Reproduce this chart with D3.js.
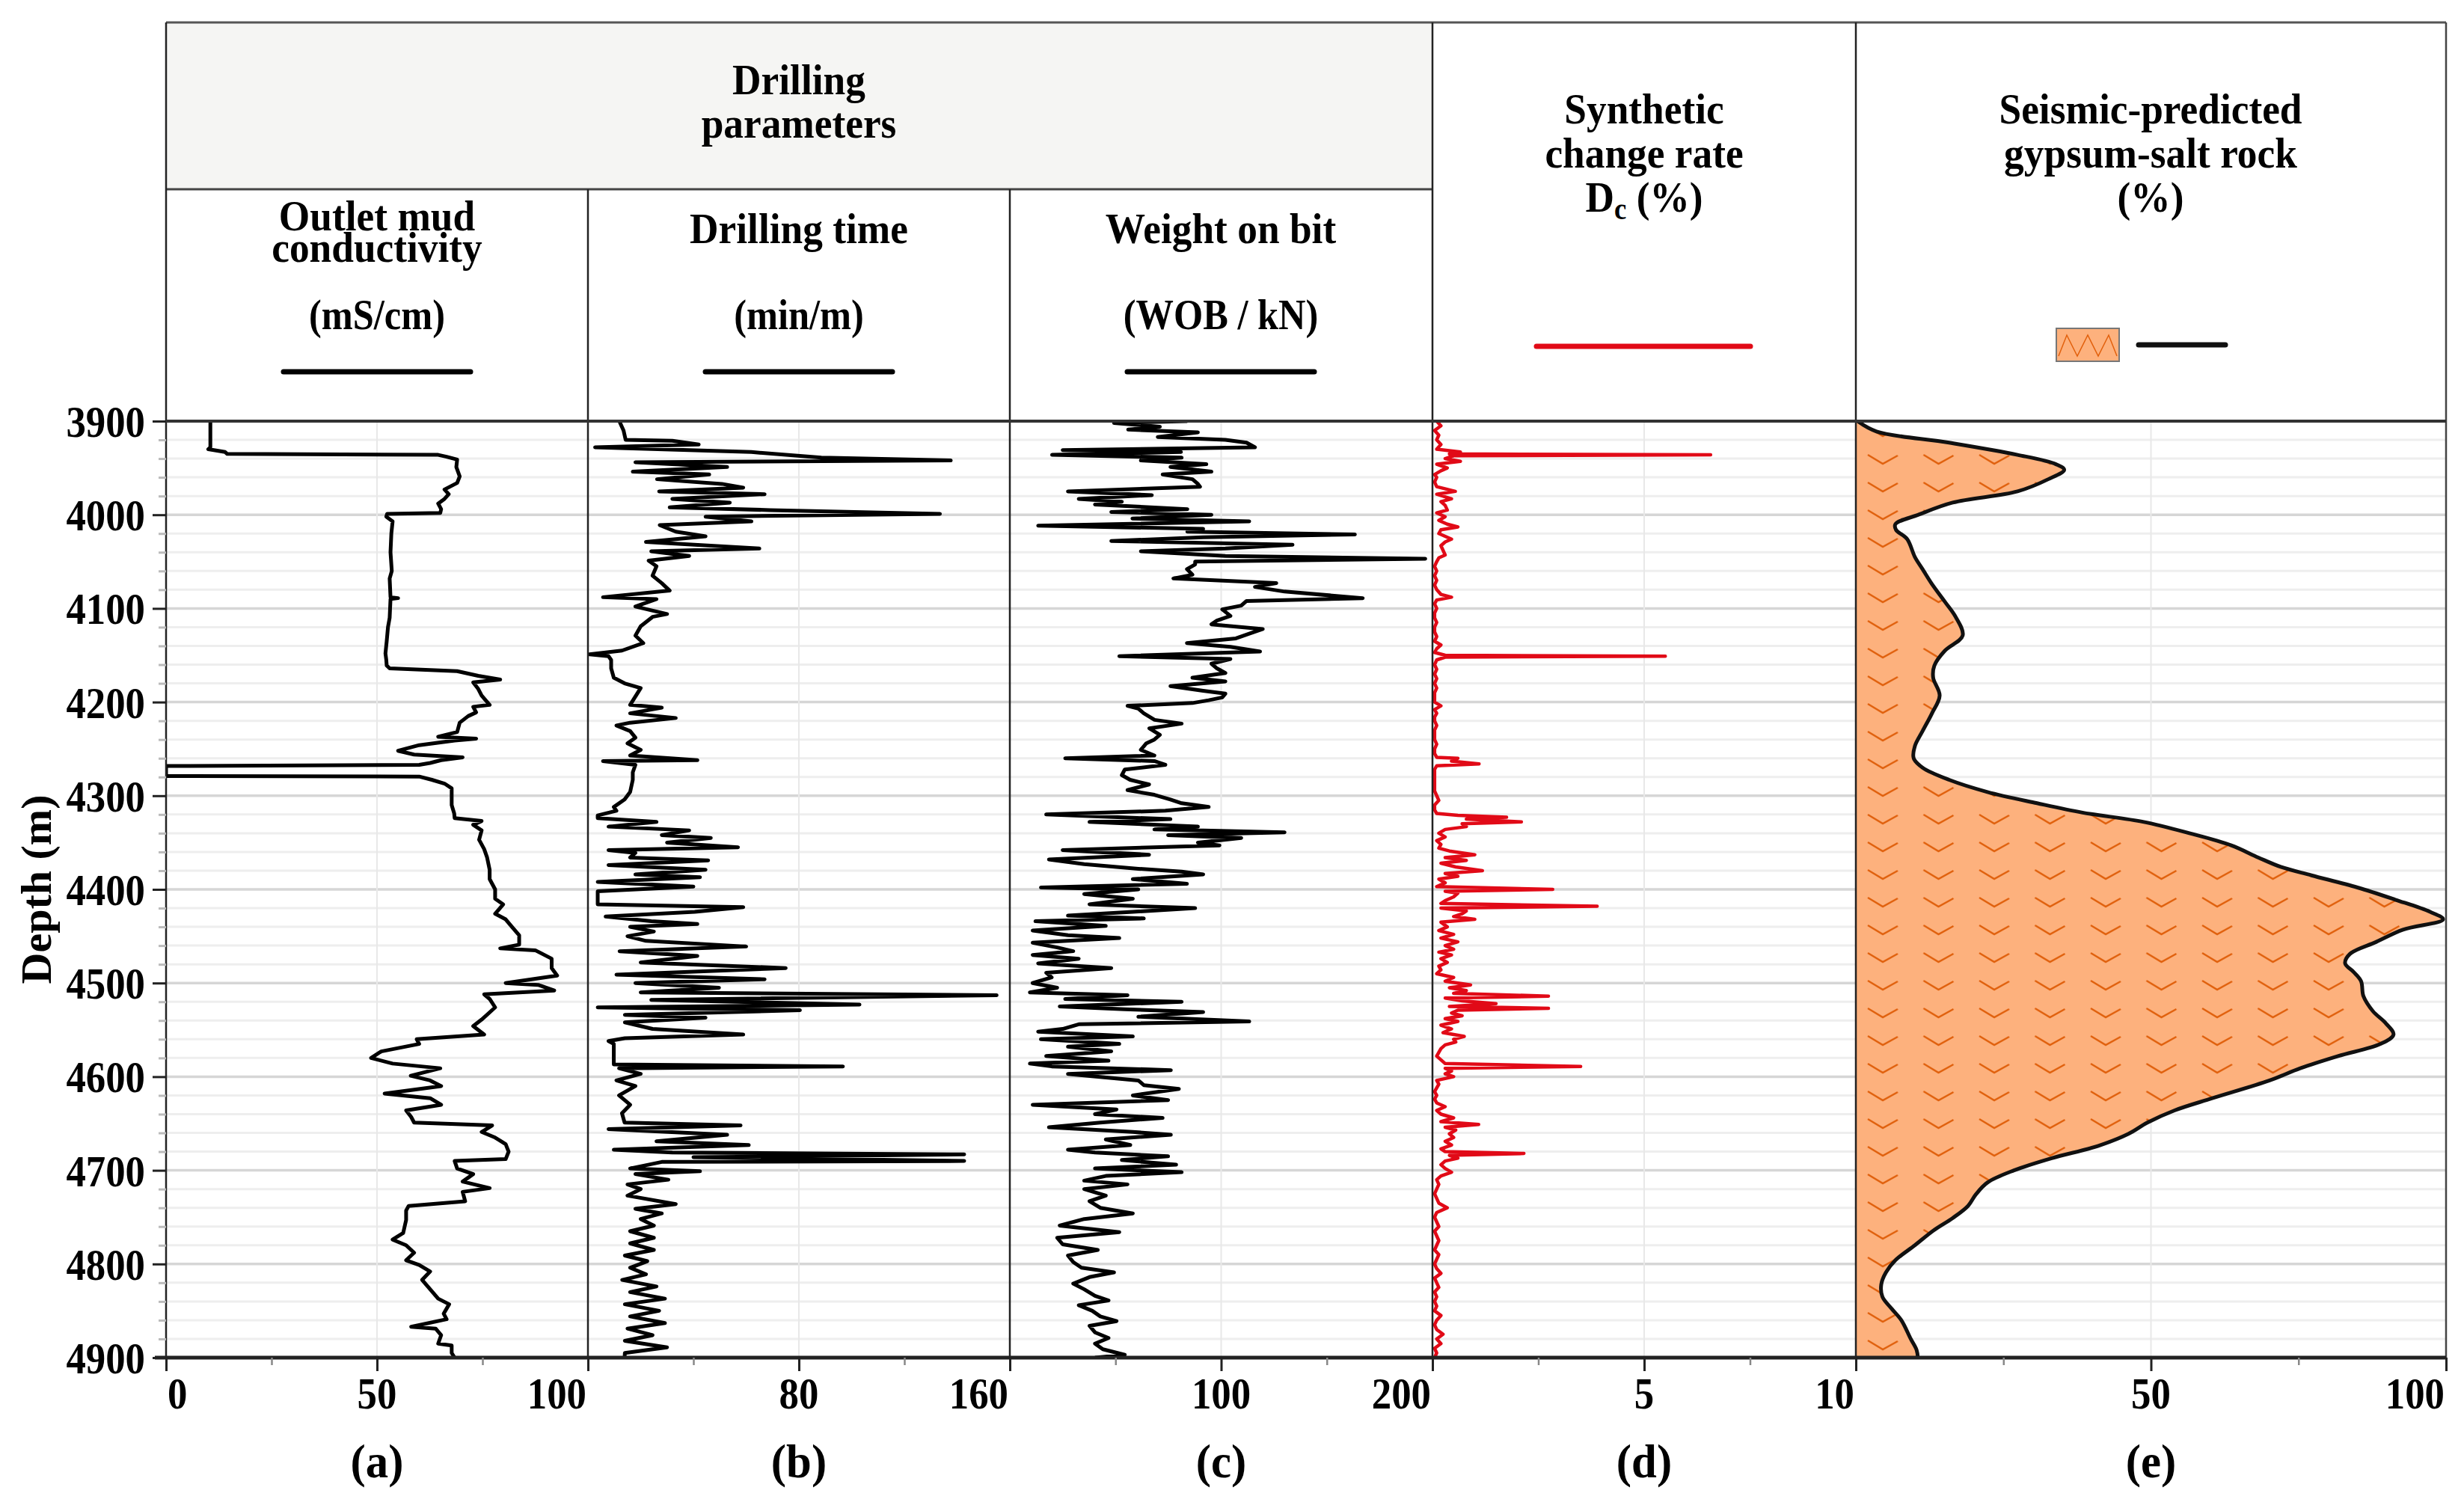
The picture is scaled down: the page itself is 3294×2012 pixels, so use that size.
<!DOCTYPE html>
<html>
<head>
<meta charset="utf-8">
<script src="https://cdn.jsdelivr.net/npm/d3@7"></script>
<style>
  body { margin: 0; background: #fff; }
  svg text { font-family: "Liberation Serif", "Times New Roman", serif; font-weight: bold; fill: #000; }
</style>
</head>
<body>
<div id="chart"></div>
<script>
// ---- data: [depth (m), value] ----
const depthTicks = [3900, 4000, 4100, 4200, 4300, 4400, 4500, 4600, 4700, 4800, 4900];

const aTicks = [0, 50, 100];
const bTicks = [80, 160];
const cTicks = [100, 200];
const dTicks = [5, 10];
const eTicks = [50, 100];

// outlet mud conductivity, mS/cm
const conductivity = [
  [3900,10.5],[3928,10.5],[3930,10],[3933,14],[3935,14.5],[3936,64.5],[3938,66.5],[3941,69],[3949,68.8],[3959,69.6],
  [3966,69],[3973,66],[3978,67],[3983,66],[3988,64.5],[3994,65.2],[3998,65],[3999,52.4],[4002,52.2],[4007,53.7],
  [4020,53.4],[4040,53.2],[4060,53.5],[4068,53],[4088,53.2],[4089,55],[4090,53.2],[4110,53],[4120,52.6],[4135,52.3],
  [4148,52],[4155,52.2],[4161,52.3],[4164,53],[4167,69],[4172,74],[4176,79.2],[4179,72.8],[4186,74],[4193,74.8],
  [4203,76.7],[4205,72.8],[4211,73.5],[4215,71.6],[4222,69.6],[4232,69],[4237,64.5],[4239,73.5],[4241,68.4],[4246,60],
  [4252,55],[4256,58.8],[4259,70.3],[4262,65.2],[4265,62.6],[4267,60],[4268.3,0],[4279,0],[4279.5,60],[4283,63],
  [4287,66],[4292,67.7],[4310,67.7],[4319,68.3],[4324,68.4],[4327,74.8],[4331,72.8],[4337,74.8],[4347,74.2],[4357,75.4],
  [4366,76.1],[4379,76.7],[4389,76.7],[4400,78],[4410,78],[4416,79.9],[4426,78],[4432,80.5],[4439,81.8],[4449,83.7],
  [4459,83.7],[4463,79.2],[4465,87.5],[4474,91.4],[4484,91.4],[4492,92.7],[4500,80.5],[4502,88.2],[4508,92],[4512,75.4],
  [4517,76.7],[4526,78],[4539,74.8],[4546,72.8],[4555,75.4],[4560,59.4],[4565,60],[4573,51],[4580,48.6],[4586,53.7],
  [4591,65],[4599,58],[4604,62.6],[4610,65.2],[4618,51.8],[4623,62.6],[4630,65.2],[4636,56.9],[4643,58.1],[4649,58.8],
  [4652,77.3],[4659,74.8],[4665,78],[4672,80.5],[4680,81.2],[4688,80.5],[4690,68.4],[4698,69],[4704,72.8],[4712,70.3],
  [4719,76.7],[4723,70.3],[4733,70.9],[4738,57.5],[4743,56.9],[4753,56.9],[4767,56.2],[4774,53.7],[4780,56.9],[4788,58.8],
  [4796,56.9],[4801,60],[4808,62.6],[4817,60.7],[4827,62.6],[4837,64.5],[4843,67.1],[4853,65.8],[4859,66.5],[4867,58.1],
  [4869,63.9],[4876,65.2],[4885,64.5],[4887,67.7],[4895,67.7],[4900,68.4]
];

// drilling time, min/m
const drillingTime = [
  [3900,11.9],[3910,13.5],[3920,14.3],[3921,32],[3925,42],[3928,2.7],[3933,62],[3939,88.5],[3942,137.6],[3944,18],
  [3949,52.8],[3954,17],[3957,46],[3962,26.2],[3967,50.8],[3971,58.9],[3975,27],[3978,67],[3983,32],[3987,53.8],
  [3992,31],[3995,69],[3999,133.5],[4002,44.6],[4007,62],[4011,27.2],[4018,33.3],[4023,44.6],[4029,22],[4036,65],
  [4039,24],[4044,38.4],[4049,23],[4055,26],[4065,24.5],[4073,28],[4081,31],[4088,5.7],[4090,26],[4098,18],
  [4106,30],[4109,24.5],[4119,20],[4129,18],[4137,21],[4145,12.9],[4149,0.6],[4151,7.8],[4155,8.8],[4164,8.8],
  [4174,9.8],[4180,13.9],[4185,20],[4203,16],[4206,28],[4212,16],[4217,33.3],[4222,16],[4225,10.8],[4231,16],
  [4238,18],[4244,15],[4251,20],[4257,16],[4262,41.5],[4263,5.7],[4267,18],[4275,17],[4283,17],[4296,16],
  [4304,13.9],[4312,9.8],[4316,10.8],[4321,3.7],[4324,3.7],[4328,26],[4333,7.8],[4337,38.4],[4342,28],[4345,46.6],
  [4350,30],[4355,56.9],[4358,7.8],[4361,18],[4366,16],[4369,45.6],[4374,7.8],[4379,44.6],[4384,18],[4387,42.5],
  [4392,3.7],[4397,40],[4402,3.7],[4410,3.7],[4416,3.7],[4419,58.9],[4424,40.5],[4429,6.7],[4434,24],[4437,41.5],
  [4440,16],[4445,25],[4450,15],[4455,22],[4461,60],[4466,12],[4471,41.5],[4478,20],[4484,75],[4491,10.8],
  [4496,67],[4500,18],[4505,49.7],[4510,20],[4513,155],[4518,24],[4523,103],[4526,3.7],[4529,80.4],[4534,14],
  [4537,44.6],[4542,14],[4549,24.5],[4555,58.9],[4559,14],[4562,7.8],[4565,9.8],[4578,9.8],[4587,9.8],[4589,96.7],
  [4591,11.8],[4597,20],[4604,10.8],[4610,18],[4620,11.8],[4630,16],[4639,12.9],[4649,13.9],[4652,57.9],[4656,7.8],
  [4662,52.8],[4669,26],[4673,61],[4678,9.8],[4681,32],[4683,142.7],[4686,40],[4690,142.7],[4691,28],[4698,16],
  [4701,42.5],[4704,18],[4710,30.5],[4715,15],[4720,20],[4727,15],[4736,33.3],[4741,18],[4746,28],[4752,20],
  [4759,25],[4765,16],[4772,25],[4778,16],[4785,25],[4791,14],[4797,22.5],[4804,16],[4811,22],[4817,13],
  [4824,26],[4830,16],[4837,29.2],[4843,14],[4850,27],[4856,16],[4863,29.2],[4869,15],[4876,24.5],[4882,14],
  [4889,30],[4895,14],[4900,13.9]
];

// weight on bit, kN
const weightOnBit = [
  [3900,84],[3902,49.3],[3906,71],[3909,56],[3912,89],[3917,70],[3920,102],[3923,112],[3928,116],[3931,25],
  [3933,81],[3936,20],[3939,81.3],[3942,62],[3946,93],[3949,76],[3954,95.4],[3957,72.3],[3962,86.4],[3967,89],
  [3970,90],[3975,27.5],[3979,67.2],[3983,32.6],[3986,53],[3989,40.3],[3994,84],[3997,48],[4000,95.4],[4004,58],
  [4007,113.3],[4011.6,13.4],[4015,91.5],[4018,84],[4021,163.3],[4024,91.5],[4028,48],[4032,133.8],[4036,102],[4039,62],
  [4044,102],[4047,196.6],[4050,87.7],[4053,87.7],[4058,83.8],[4064,86.4],[4068,77.4],[4073,126.1],[4077,116],[4082,130],
  [4089,167],[4092,112],[4097,109.5],[4101,100.5],[4108,104.4],[4113,98],[4117,95.4],[4122,119.7],[4127,113.3],[4132,107],
  [4137,83.8],[4141,104.4],[4146,118.4],[4151,51.8],[4154,104.4],[4159,95.4],[4164,98],[4169,102],[4174,86.4],[4178,102],
  [4183,76],[4188,91.5],[4191,102],[4195,100.5],[4198,94.1],[4201,86.4],[4204,55.7],[4207,60.8],[4212,63.4],[4219,68.5],
  [4223,81.3],[4228,66],[4235,71],[4240,68.4],[4244,64.6],[4251,62],[4257,68.4],[4260,26.2],[4263,68.4],[4267,73.6],
  [4272,54.4],[4278,53],[4283,56.9],[4288,65.9],[4294,55.7],[4299,68.4],[4304,76],[4308,81.3],[4312,94.1],[4316,73.6],
  [4320,17.2],[4325,76],[4328,37.7],[4333,89],[4336,68.4],[4339,130],[4342,74.9],[4345,109.5],[4350,89],[4353,99.2],
  [4358,25],[4363,65.9],[4368,18.5],[4373,35.2],[4378,60.8],[4381,81.3],[4384,91.5],[4389,58.2],[4394,83.8],[4398,14.7],
  [4400,60.8],[4405,35.2],[4410,58.2],[4416,37.7],[4420,87.7],[4424,58.2],[4428,27.5],[4431,63.4],[4434,12.1],[4439,45.4],
  [4444,10.8],[4449,27.5],[4452,51.8],[4457,10.8],[4462,22.4],[4466,30],[4470,10.8],[4474,32.6],[4479,13.4],[4484,48],
  [4489,17.2],[4494,19.8],[4500,10.8],[4505,22.4],[4510,9.5],[4513,55.7],[4517,26.2],[4520,81.3],[4525,23.6],[4528,54.4],
  [4531,91.5],[4536,60.8],[4541,113.3],[4544,32.6],[4549,25],[4552,13.4],[4557,58.2],[4560,14.7],[4565,51.8],[4568,27.5],
  [4573,48],[4578,17.2],[4583,46.7],[4586,9.5],[4589,19.8],[4593,76.2],[4597,27.5],[4604,60.8],[4609,63.4],[4613,80],
  [4620,58.2],[4625,74.9],[4630,10.8],[4635,50.5],[4640,40.3],[4644,72.3],[4649,42.8],[4654,18.5],[4659,58.2],[4662,76.2],
  [4667,45.4],[4673,57],[4678,27.5],[4681,40.3],[4685,74.9],[4689,53],[4694,78.7],[4698,40.3],[4702,81.3],[4706,45.4],
  [4711,35.2],[4715,55.7],[4720,35.2],[4727,45.4],[4733,37.7],[4740,42.8],[4746,58.2],[4752,35.2],[4759,23.6],[4766,51.8],
  [4772,22.4],[4779,25],[4785,41.6],[4791,27.5],[4798,30],[4804,33.9],[4809,49.3],[4814,37.7],[4821,30],[4827,35.2],
  [4834,40.3],[4839,46.7],[4844,32.6],[4850,39],[4856,42.8],[4861,50.5],[4866,37.7],[4873,40.3],[4879,46.7],[4885,40.3],
  [4891,44],[4897,54.4],[4900,40.3]
];

// synthetic change rate Dc, %
const changeRate = [
  [3900,0.1],[3905,0.2],[3910,0.05],[3915,0.15],[3920,0.1],[3925,0.2],[3930,0.1],[3933,0.66],[3935,0.4],[3936,6.57],
  [3937,0.5],[3940,0.3],[3943,0.66],[3946,0.1],[3950,0.35],[3953,0.2],[3957,0.05],[3960,0.1],[3965,0.05],[3970,0.1],
  [3975,0.54],[3978,0.1],[3983,0.45],[3986,0.2],[3990,0.3],[3995,0.35],[3998,0.1],[4002,0.3],[4006,0.15],[4010,0.35],
  [4013,0.6],[4016,0.2],[4020,0.15],[4026,0.45],[4029,0.3],[4033,0.2],[4038,0.25],[4043,0.3],[4046,0.15],[4050,0.1],
  [4055,0.05],[4060,0.1],[4065,0.05],[4070,0.1],[4075,0.05],[4080,0.1],[4085,0.2],[4088,0.45],[4091,0.1],[4095,0.05],
  [4100,0.1],[4105,0.05],[4110,0.05],[4115,0.1],[4120,0.05],[4125,0.05],[4130,0.1],[4135,0.05],[4139,0.2],[4143,0.1],
  [4147,0.05],[4150,0.3],[4151,5.5],[4152,0.3],[4155,0.1],[4160,0.05],[4165,0.1],[4170,0.05],[4175,0.1],[4180,0.05],
  [4185,0.1],[4190,0.05],[4195,0.05],[4200,0.05],[4204,0.2],[4208,0.05],[4212,0.1],[4216,0.05],[4220,0.05],[4225,0.1],
  [4230,0.05],[4235,0.05],[4240,0.05],[4245,0.1],[4250,0.05],[4255,0.05],[4259,0.1],[4260,0.6],[4263,0.45],[4266,1.1],
  [4268,0.1],[4272,0.05],[4276,0.05],[4280,0.05],[4285,0.05],[4290,0.05],[4295,0.05],[4300,0.1],[4305,0.15],[4310,0.05],
  [4315,0.05],[4319,0.1],[4321,0.6],[4323,1.75],[4325,0.8],[4328,2.1],[4330,0.7],[4333,0.8],[4336,0.3],[4340,0.15],
  [4344,0.3],[4348,0.1],[4352,0.2],[4356,0.15],[4359,0.4],[4363,1.0],[4366,0.3],[4369,0.8],[4372,0.2],[4376,0.55],
  [4380,1.18],[4383,0.3],[4386,0.6],[4389,0.15],[4393,0.3],[4397,0.1],[4400,2.84],[4402,0.3],[4404,0.6],[4408,0.5],
  [4412,0.3],[4415,0.2],[4418,3.89],[4420,0.2],[4423,0.8],[4426,0.7],[4429,0.5],[4432,1.0],[4435,0.2],[4440,0.35],
  [4444,0.15],[4448,0.5],[4452,0.2],[4456,0.6],[4460,0.3],[4464,0.5],[4467,0.15],[4470,0.45],[4474,0.2],[4478,0.35],
  [4482,0.15],[4486,0.2],[4490,0.1],[4494,0.5],[4498,0.3],[4502,0.9],[4505,0.4],[4508,0.8],[4511,0.5],[4514,2.74],
  [4516,0.3],[4519,0.7],[4522,1.5],[4525,0.4],[4527,2.74],[4529,0.6],[4532,0.45],[4535,0.7],[4538,0.3],[4541,0.6],
  [4545,0.2],[4549,0.45],[4553,0.25],[4557,0.75],[4560,0.5],[4563,0.55],[4566,0.3],[4570,0.2],[4574,0.15],[4578,0.1],
  [4582,0.2],[4586,0.3],[4589,3.5],[4591,0.3],[4594,0.45],[4597,0.3],[4600,0.5],[4604,0.1],[4608,0.15],[4612,0.1],
  [4616,0.05],[4620,0.1],[4624,0.05],[4628,0.1],[4632,0.3],[4636,0.1],[4640,0.2],[4644,0.5],[4648,0.2],[4651,1.09],
  [4654,0.3],[4657,0.55],[4661,0.4],[4665,0.5],[4669,0.3],[4673,0.45],[4677,0.2],[4680,0.3],[4682,2.16],[4684,0.4],
  [4687,0.6],[4690,0.3],[4694,0.2],[4698,0.3],[4702,0.45],[4706,0.2],[4710,0.1],[4715,0.15],[4720,0.1],[4725,0.05],
  [4730,0.1],[4735,0.15],[4740,0.35],[4745,0.1],[4750,0.05],[4755,0.1],[4760,0.15],[4765,0.05],[4770,0.1],[4775,0.15],
  [4780,0.1],[4785,0.05],[4790,0.15],[4795,0.1],[4800,0.05],[4805,0.1],[4810,0.2],[4815,0.05],[4820,0.1],[4825,0.15],
  [4830,0.05],[4835,0.1],[4840,0.05],[4845,0.1],[4850,0.05],[4855,0.2],[4860,0.1],[4865,0.05],[4870,0.1],[4875,0.25],
  [4880,0.1],[4885,0.2],[4890,0.05],[4895,0.1],[4900,0.05]
];

// seismic-predicted gypsum-salt rock, %
const gypsumSalt = [
  [3900,0.3],[3911,3.5],[3923,15.8],[3936,27.4],[3946,33.9],[3952,35.3],[3962,32.6],[3975,27.4],[3987,16.4],[4000,10.6],
  [4010,6.7],[4016,6.8],[4026,8.7],[4045,10],[4058,11.3],[4074,12.9],[4093,15.1],[4109,16.9],[4129,18.1],[4145,15.1],
  [4161,13.3],[4174,13.1],[4193,14.2],[4212,12.9],[4231,11.3],[4247,10],[4260,9.8],[4270,11.3],[4283,15.8],[4296,22.3],
  [4308,30.7],[4318,38.4],[4328,48.8],[4340,56.5],[4353,63.6],[4366,68.2],[4376,72],[4385,77.2],[4398,85],[4411,91.4],
  [4424,97.3],[4432,99.5],[4443,92.7],[4456,88.2],[4469,83.7],[4479,82.9],[4488,84.3],[4498,85.6],[4514,86],[4530,87.6],
  [4543,89.8],[4555,91.1],[4565,88.9],[4578,81.7],[4591,75.3],[4604,70.1],[4623,60.4],[4636,54],[4649,49.4],[4661,46.2],
  [4674,41],[4687,33.2],[4700,26.8],[4713,22.3],[4726,20.3],[4738,19],[4751,16.4],[4764,13.2],[4780,10],[4796,6.7],
  [4809,5.1],[4822,4.3],[4835,4.5],[4848,6.1],[4860,7.7],[4880,9.3],[4892,10.3],[4900,10.5]
];

// ---- layout ----
const W = 3294, H = 2012;
const LEFT = 222, RIGHT = 3270, TOP = 563, BOT = 1815;
const HEAD_TOP = 30, HEAD_MID = 253;
const FONT_SX = 0.88;

const panels = [
  {x0: 222,  x1: 786,  max: 100, labels: aTicks, minor: [25, 75],    data: conductivity, color: "#000", tag: "(a)"},
  {x0: 786,  x1: 1350, max: 160, labels: bTicks, minor: [40, 120],   data: drillingTime, color: "#000", tag: "(b)"},
  {x0: 1350, x1: 1915, max: 200, labels: cTicks, minor: [50, 150],   data: weightOnBit,  color: "#000", tag: "(c)"},
  {x0: 1915, x1: 2481, max: 10,  labels: dTicks, minor: [2.5, 7.5],  data: changeRate,   color: "#e10a17", tag: "(d)"},
  {x0: 2481, x1: 3270, max: 100, labels: eTicks, minor: [25, 75],    data: gypsumSalt,   color: "#111", tag: "(e)"}
];
panels.forEach(p => p.x = d3.scaleLinear().domain([0, p.max]).range([p.x0, p.x1]));

const y = d3.scaleLinear().domain([3900, 4900]).range([TOP, BOT]);

const svg = d3.select("#chart").append("svg").attr("width", W).attr("height", H);

const defs = svg.append("defs");
panels.forEach((p, i) => {
  defs.append("clipPath").attr("id", "clip" + i)
    .append("rect").attr("x", p.x0).attr("y", TOP).attr("width", p.x1 - p.x0).attr("height", BOT - TOP);
});
// gypsum-salt rock pattern
const pat = defs.append("pattern").attr("id", "gyp").attr("patternUnits", "userSpaceOnUse")
  .attr("x", 2481).attr("y", 563).attr("width", 74.5).attr("height", 37);
pat.append("rect").attr("width", 74.5).attr("height", 37).attr("fill", "#fdb17d");
pat.append("path").attr("d", "M16,8 L36,20 L56,9").attr("fill", "none")
  .attr("stroke", "#e0600c").attr("stroke-width", 2.4);

function txt(g, x, yy, s, size, sx, anchor) {
  return g.append("text")
    .attr("transform", `translate(${x},${yy}) scale(${sx},1)`)
    .attr("text-anchor", anchor || "middle")
    .style("font-size", size + "px")
    .text(s);
}

// ---- header ----
const head = svg.append("g");
head.append("rect").attr("x", LEFT).attr("y", HEAD_TOP).attr("width", 1915 - LEFT).attr("height", HEAD_MID - HEAD_TOP)
  .attr("fill", "#f5f5f3");
head.append("line").attr("x1", LEFT).attr("x2", RIGHT).attr("y1", HEAD_TOP).attr("y2", HEAD_TOP)
  .attr("stroke", "#555").attr("stroke-width", 3);
head.append("line").attr("x1", LEFT).attr("x2", 1915).attr("y1", HEAD_MID).attr("y2", HEAD_MID)
  .attr("stroke", "#444").attr("stroke-width", 3);

txt(head, 1068, 126, "Drilling", 58, 0.92);
txt(head, 1068, 184, "parameters", 58, 0.92);

txt(head, 504, 308, "Outlet mud", 58, 0.92);
txt(head, 504, 350, "conductivity", 58, 0.92);
txt(head, 504, 440, "(mS/cm)", 56, 0.9);
txt(head, 1068, 325, "Drilling time", 58, 0.92);
txt(head, 1068, 440, "(min/m)", 56, 0.9);
txt(head, 1632, 325, "Weight on bit", 58, 0.92);
txt(head, 1632, 440, "(WOB / kN)", 56, 0.9);

txt(head, 2198, 165, "Synthetic", 58, 0.92);
txt(head, 2198, 224, "change rate", 58, 0.92);
const dc = txt(head, 2198, 283, "D", 58, 0.92);
dc.append("tspan").attr("dy", 10).style("font-size", "40px").text("c");
dc.append("tspan").attr("dy", -10).text(" (%)");

txt(head, 2875, 165, "Seismic-predicted", 58, 0.92);
txt(head, 2875, 224, "gypsum-salt rock", 58, 0.92);
txt(head, 2875, 283, "(%)", 58, 0.92);

// legend keys
[504, 1068, 1632].forEach(cx => {
  head.append("line").attr("x1", cx - 125).attr("x2", cx + 125).attr("y1", 497).attr("y2", 497)
    .attr("stroke", "#000").attr("stroke-width", 7).attr("stroke-linecap", "round");
});
head.append("line").attr("x1", 2054).attr("x2", 2340).attr("y1", 463).attr("y2", 463)
  .attr("stroke", "#e10a17").attr("stroke-width", 7).attr("stroke-linecap", "round");
head.append("rect").attr("x", 2749).attr("y", 439).attr("width", 84).attr("height", 44)
  .attr("fill", "#fdb17d").attr("stroke", "#777").attr("stroke-width", 2);
head.append("path").attr("d", "M2752,476 L2763,448 L2777,476 L2791,448 L2805,476 L2819,448 L2830,476")
  .attr("fill", "none").attr("stroke", "#e2600c").attr("stroke-width", 1.5);
head.append("line").attr("x1", 2859).attr("x2", 2975).attr("y1", 461).attr("y2", 461)
  .attr("stroke", "#111").attr("stroke-width", 7).attr("stroke-linecap", "round");

// ---- grid ----
const grid = svg.append("g");
const minorDepths = d3.range(3920, 4900, 20).filter(d => d % 100 !== 0);
grid.selectAll(".minor").data(minorDepths).join("line")
  .attr("x1", LEFT).attr("x2", RIGHT).attr("y1", d => y(d)).attr("y2", d => y(d))
  .attr("stroke", "#eeeeee").attr("stroke-width", 3);
grid.selectAll(".major").data(depthTicks.slice(1, -1)).join("line")
  .attr("x1", LEFT).attr("x2", RIGHT).attr("y1", d => y(d)).attr("y2", d => y(d))
  .attr("stroke", "#d6d6d6").attr("stroke-width", 3.5);
panels.forEach(p => {
  const mx = p.x(p.max / 2);
  grid.append("line").attr("x1", mx).attr("x2", mx).attr("y1", TOP).attr("y2", BOT)
    .attr("stroke", "#e8e8e8").attr("stroke-width", 2);
});

// ---- curves ----
const curves = svg.append("g");
panels.forEach((p, i) => {
  const g = curves.append("g").attr("clip-path", `url(#clip${i})`);
  if (i === 4) {
    const area = d3.area().curve(d3.curveCatmullRom)
      .y(d => y(d[0])).x0(p.x(0)).x1(d => p.x(d[1]));
    g.append("path").datum(p.data).attr("d", area).attr("fill", "url(#gyp)");
    const line = d3.line().curve(d3.curveCatmullRom).x(d => p.x(d[1])).y(d => y(d[0]));
    g.append("path").datum(p.data).attr("d", line)
      .attr("fill", "none").attr("stroke", p.color).attr("stroke-width", 5);
  } else {
    const line = d3.line().x(d => p.x(d[1])).y(d => y(d[0]));
    g.append("path").datum(p.data).attr("d", line)
      .attr("fill", "none").attr("stroke", p.color).attr("stroke-width", i === 3 ? 4.5 : 5)
      .attr("stroke-linejoin", "round");
  }
});

// ---- frame ----
const frame = svg.append("g");
[786, 1350].forEach(x => frame.append("line").attr("x1", x).attr("x2", x).attr("y1", HEAD_MID).attr("y2", BOT)
  .attr("stroke", "#222").attr("stroke-width", 2.5));
[1915, 2481].forEach(x => frame.append("line").attr("x1", x).attr("x2", x).attr("y1", HEAD_TOP).attr("y2", BOT)
  .attr("stroke", "#222").attr("stroke-width", 2.5));
frame.append("line").attr("x1", LEFT).attr("x2", LEFT).attr("y1", HEAD_TOP).attr("y2", BOT)
  .attr("stroke", "#222").attr("stroke-width", 2.5);
frame.append("line").attr("x1", RIGHT).attr("x2", RIGHT).attr("y1", HEAD_TOP).attr("y2", BOT)
  .attr("stroke", "#444").attr("stroke-width", 2.5);
frame.append("line").attr("x1", LEFT).attr("x2", RIGHT).attr("y1", TOP).attr("y2", TOP)
  .attr("stroke", "#333").attr("stroke-width", 4);
frame.append("line").attr("x1", LEFT - 15).attr("x2", RIGHT).attr("y1", BOT).attr("y2", BOT)
  .attr("stroke", "#222").attr("stroke-width", 5);

// ---- depth axis ----
const yAxis = svg.append("g").attr("transform", `translate(${LEFT},0)`)
  .call(d3.axisLeft(y).tickValues(depthTicks).tickSize(18).tickPadding(10).tickFormat(d3.format("d")));
yAxis.select(".domain").remove();
yAxis.selectAll(".tick line").attr("stroke", "#222").attr("stroke-width", 3);
yAxis.selectAll(".tick text").style("font-size", "60px")
  .attr("transform", `scale(${FONT_SX},1)`).attr("x", -28 / FONT_SX).attr("dy", "0.34em");
const yMinor = svg.append("g").attr("transform", `translate(${LEFT},0)`)
  .call(d3.axisLeft(y).tickValues(minorDepths).tickSize(10).tickFormat(""));
yMinor.select(".domain").remove();
yMinor.selectAll(".tick line").attr("stroke", "#bbb").attr("stroke-width", 3);

svg.append("text").attr("transform", "translate(68,1189) rotate(-90)")
  .attr("text-anchor", "middle").style("font-size", "58px").text("Depth (m)");

// ---- bottom axes ----
panels.forEach((p, i) => {
  const ax = svg.append("g").attr("transform", `translate(0,${BOT})`)
    .call(d3.axisBottom(p.x).tickValues([0, p.max / 2, p.max]).tickSize(18).tickFormat(""));
  ax.select(".domain").remove();
  ax.selectAll(".tick line").attr("stroke", "#222").attr("stroke-width", 3);
  const mn = svg.append("g").attr("transform", `translate(0,${BOT})`)
    .call(d3.axisBottom(p.x).tickValues(p.minor).tickSize(10).tickFormat(""));
  mn.select(".domain").remove();
  mn.selectAll(".tick line").attr("stroke", "#888").attr("stroke-width", 2.5);

  const lab = svg.append("g");
  p.labels.forEach(v => {
    const anchor = v === 0 ? "start" : (v === p.max ? "end" : "middle");
    const dx = v === 0 ? 2 : (v === p.max ? -2 : 0);
    txt(lab, p.x(v) + dx, 1883, String(v), 60, FONT_SX, anchor);
  });
  txt(lab, (p.x0 + p.x1) / 2, 1975, p.tag, 64, 0.95);
});
</script>
</body>
</html>
